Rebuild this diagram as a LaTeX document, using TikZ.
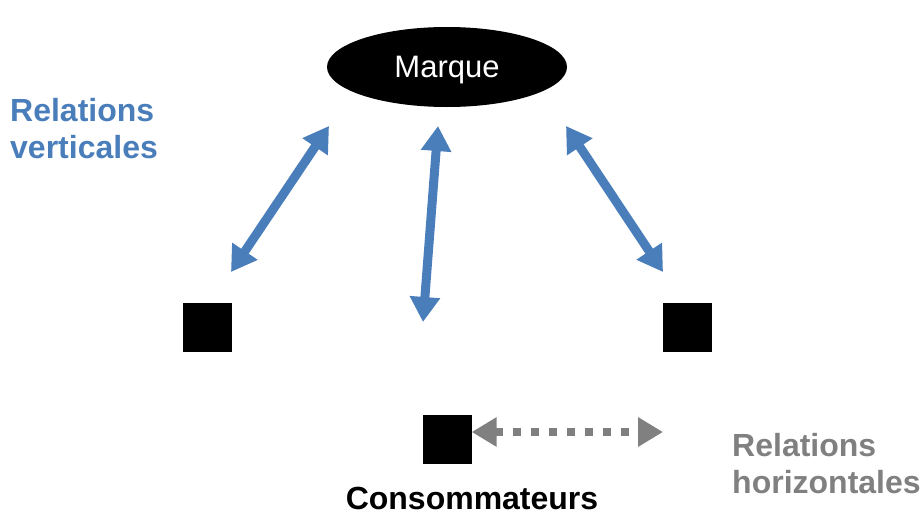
\documentclass[tikz,border=0pt]{standalone}
\usepackage{fontspec}
\setmainfont{Liberation Sans}
\usetikzlibrary{arrows.meta,shapes.geometric}
\definecolor{relblue}{RGB}{74,126,187}
\definecolor{relgrey}{RGB}{128,128,128}
\tikzset{
  sq/.style={fill=black,draw=none,minimum size=49pt,inner sep=0pt},
  varrow/.style={draw=relblue,line width=9pt,{Triangle[length=25pt,width=29pt]}-{Triangle[length=25pt,width=29pt]}},
  harrow/.style={draw=relgrey,line width=8pt,dash pattern=on 8pt off 10pt,{Triangle[length=25pt,width=28pt]}-{Triangle[length=25pt,width=28pt]}},
  lbl/.style={font=\fontsize{32}{37}\selectfont\bfseries,align=left,inner sep=0pt}
}
\begin{document}
\begin{tikzpicture}[x=1pt,y=-1pt]
\useasboundingbox (0,0) rectangle (920,514);
\node[ellipse,fill=black,minimum width=240pt,minimum height=80pt,inner sep=0pt,text=white,text height=22pt,text depth=2pt,font=\fontsize{31}{36}\selectfont] (marque) at (447,67) {Marque};
\node[sq] (s1) at (207,327) {};
\node[sq] (s2) at (687,327) {};
\node[sq] (s3) at (447,439) {};
\coordinate (a1s) at (231,272);
\coordinate (a1e) at (329,126);
\coordinate (a2s) at (423,322);
\coordinate (a2e) at (438,126);
\coordinate (a3s) at (663,272);
\coordinate (a3e) at (566,126);
\coordinate (h1) at (663,432);
\draw[varrow] (a1s) -- (a1e);
\draw[varrow] (a2s) -- (a2e);
\draw[varrow] (a3s) -- (a3e);
\draw[harrow] (s3.east |- h1) -- (h1);
\node[lbl,text=relblue,anchor=north west] (rv) at (10,98) {Relations\\verticales};
\node[lbl,text=relgrey,anchor=north west] (rh) at (732,433) {Relations\\horizontales};
\node[lbl,anchor=base] (cons) at (472,509) {Consommateurs};
\end{tikzpicture}
\end{document}
